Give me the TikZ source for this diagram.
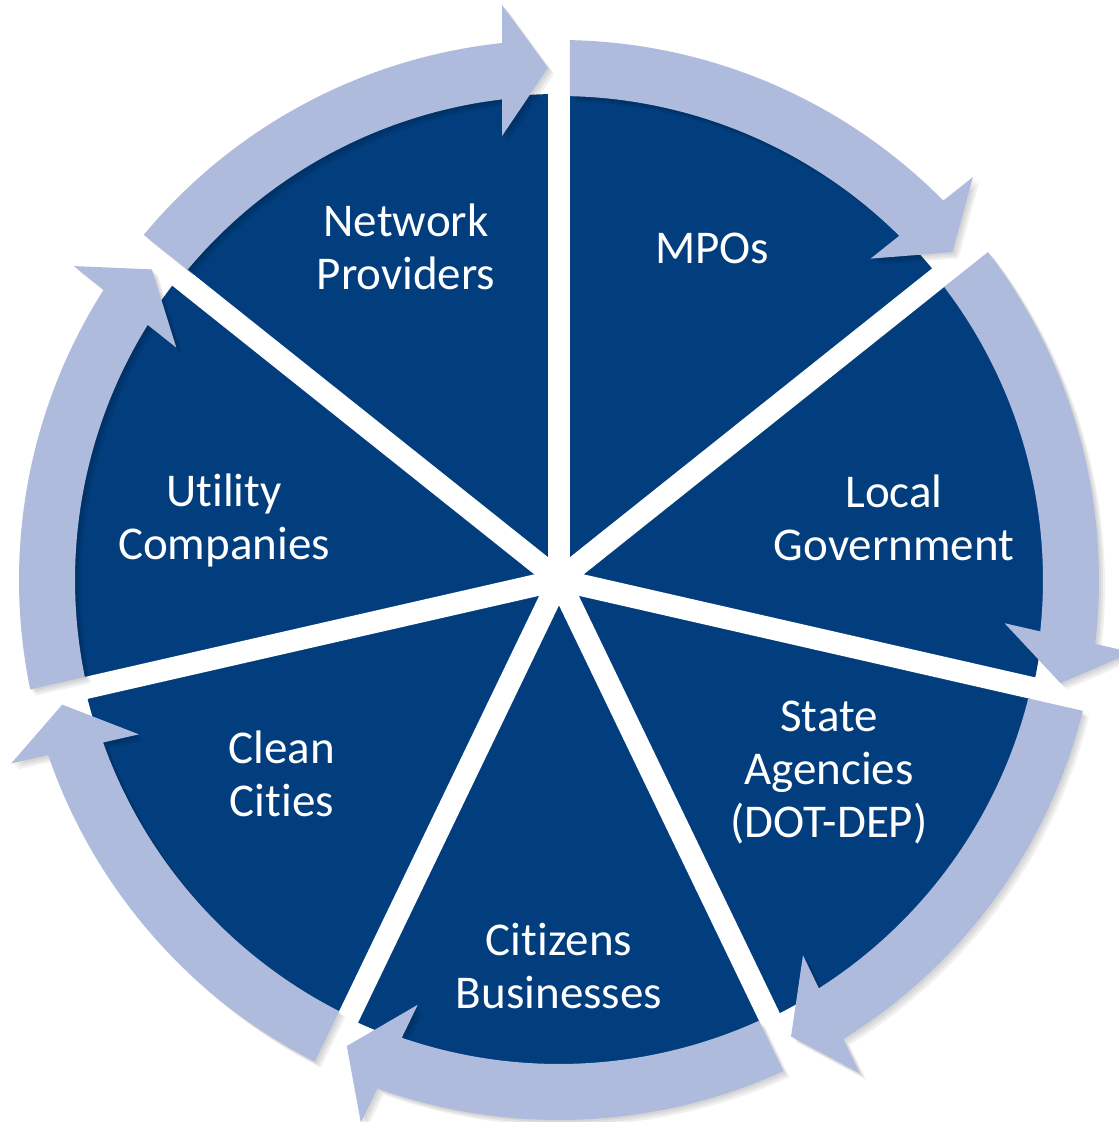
\documentclass[tikz,border=0pt]{standalone}
\usepackage{fontspec}
\setmainfont{Carlito}[RawFeature={-liga;-clig;-calt;-dlig}]
\usetikzlibrary{calc}
\definecolor{pieblue}{RGB}{2,61,125}
\definecolor{ringblue}{RGB}{175,187,221}
% #1 = start spoke angle (tail), #2 = end spoke angle (tip)
\newcommand\cyclearrowpath[2]{(#1-1.167:540pt) arc[start angle=#1-1.167, end angle=#2+6.06, radius=540pt]
 -- ($(#2:575pt)+(#2+90:57pt)$) -- ($(#2:512pt)+(#2+90:11pt)$) -- ($(#2:444pt)+(#2+90:57pt)$)
 -- (#2+6.76:484pt) arc[start angle=#2+6.76, end angle=#1-1.302, radius=484pt] -- cycle}
\begin{document}
\begin{tikzpicture}[x=1pt,y=1pt,
  lbl/.style={text=white, align=center, font=\fontsize{47}{53}\selectfont, inner sep=0pt},
  spoke/.style={white, line width=22pt},
  ringarrow/.style={fill=ringblue},
  arrowshadow/.style={fill=black, opacity=0.06}]
\useasboundingbox (-559,-542) rectangle (560,580);
% pie
\fill[pieblue] (0,0) circle[radius=486pt];
\foreach \k in {0,...,6} \draw[spoke] (0,0) -- ({90-360/7*\k}:600pt);
\fill[white] (0,0) circle[radius=12pt];
% shadows
\foreach \k in {0,...,6}{
  \pgfmathsetmacro\ts{90-360/7*\k}
  \pgfmathsetmacro\te{\ts-360/7}
  \foreach \s in {2,4,6}{
    \fill[arrowshadow, shift={(\s,-\s)}] \cyclearrowpath{\ts}{\te};
  }
}
% arrows
\foreach \k in {0,...,6}{
  \pgfmathsetmacro\ts{90-360/7*\k}
  \pgfmathsetmacro\te{\ts-360/7}
  \fill[ringarrow] \cyclearrowpath{\ts}{\te};
}
% labels
\node[lbl] (mpo) at (153,332) {MPOs};
\node[lbl] (lg) at (335,62) {Local\\Government};
\node[lbl] (sa) at (270,-193) {State\\Agencies\\(DOT-DEP)};
\node[lbl] (cb) at (0,-386) {Cit\kern0pt izens\\Businesses};
\node[lbl] (cc) at (-277,-194) {Clean\\Cit\kern0pt ies};
\node[lbl] (uc) at (-335,60) {Ut\kern0pt ility\\Companies};
\node[lbl] (np) at (-153,333) {Network\\Providers};
\end{tikzpicture}
\end{document}
